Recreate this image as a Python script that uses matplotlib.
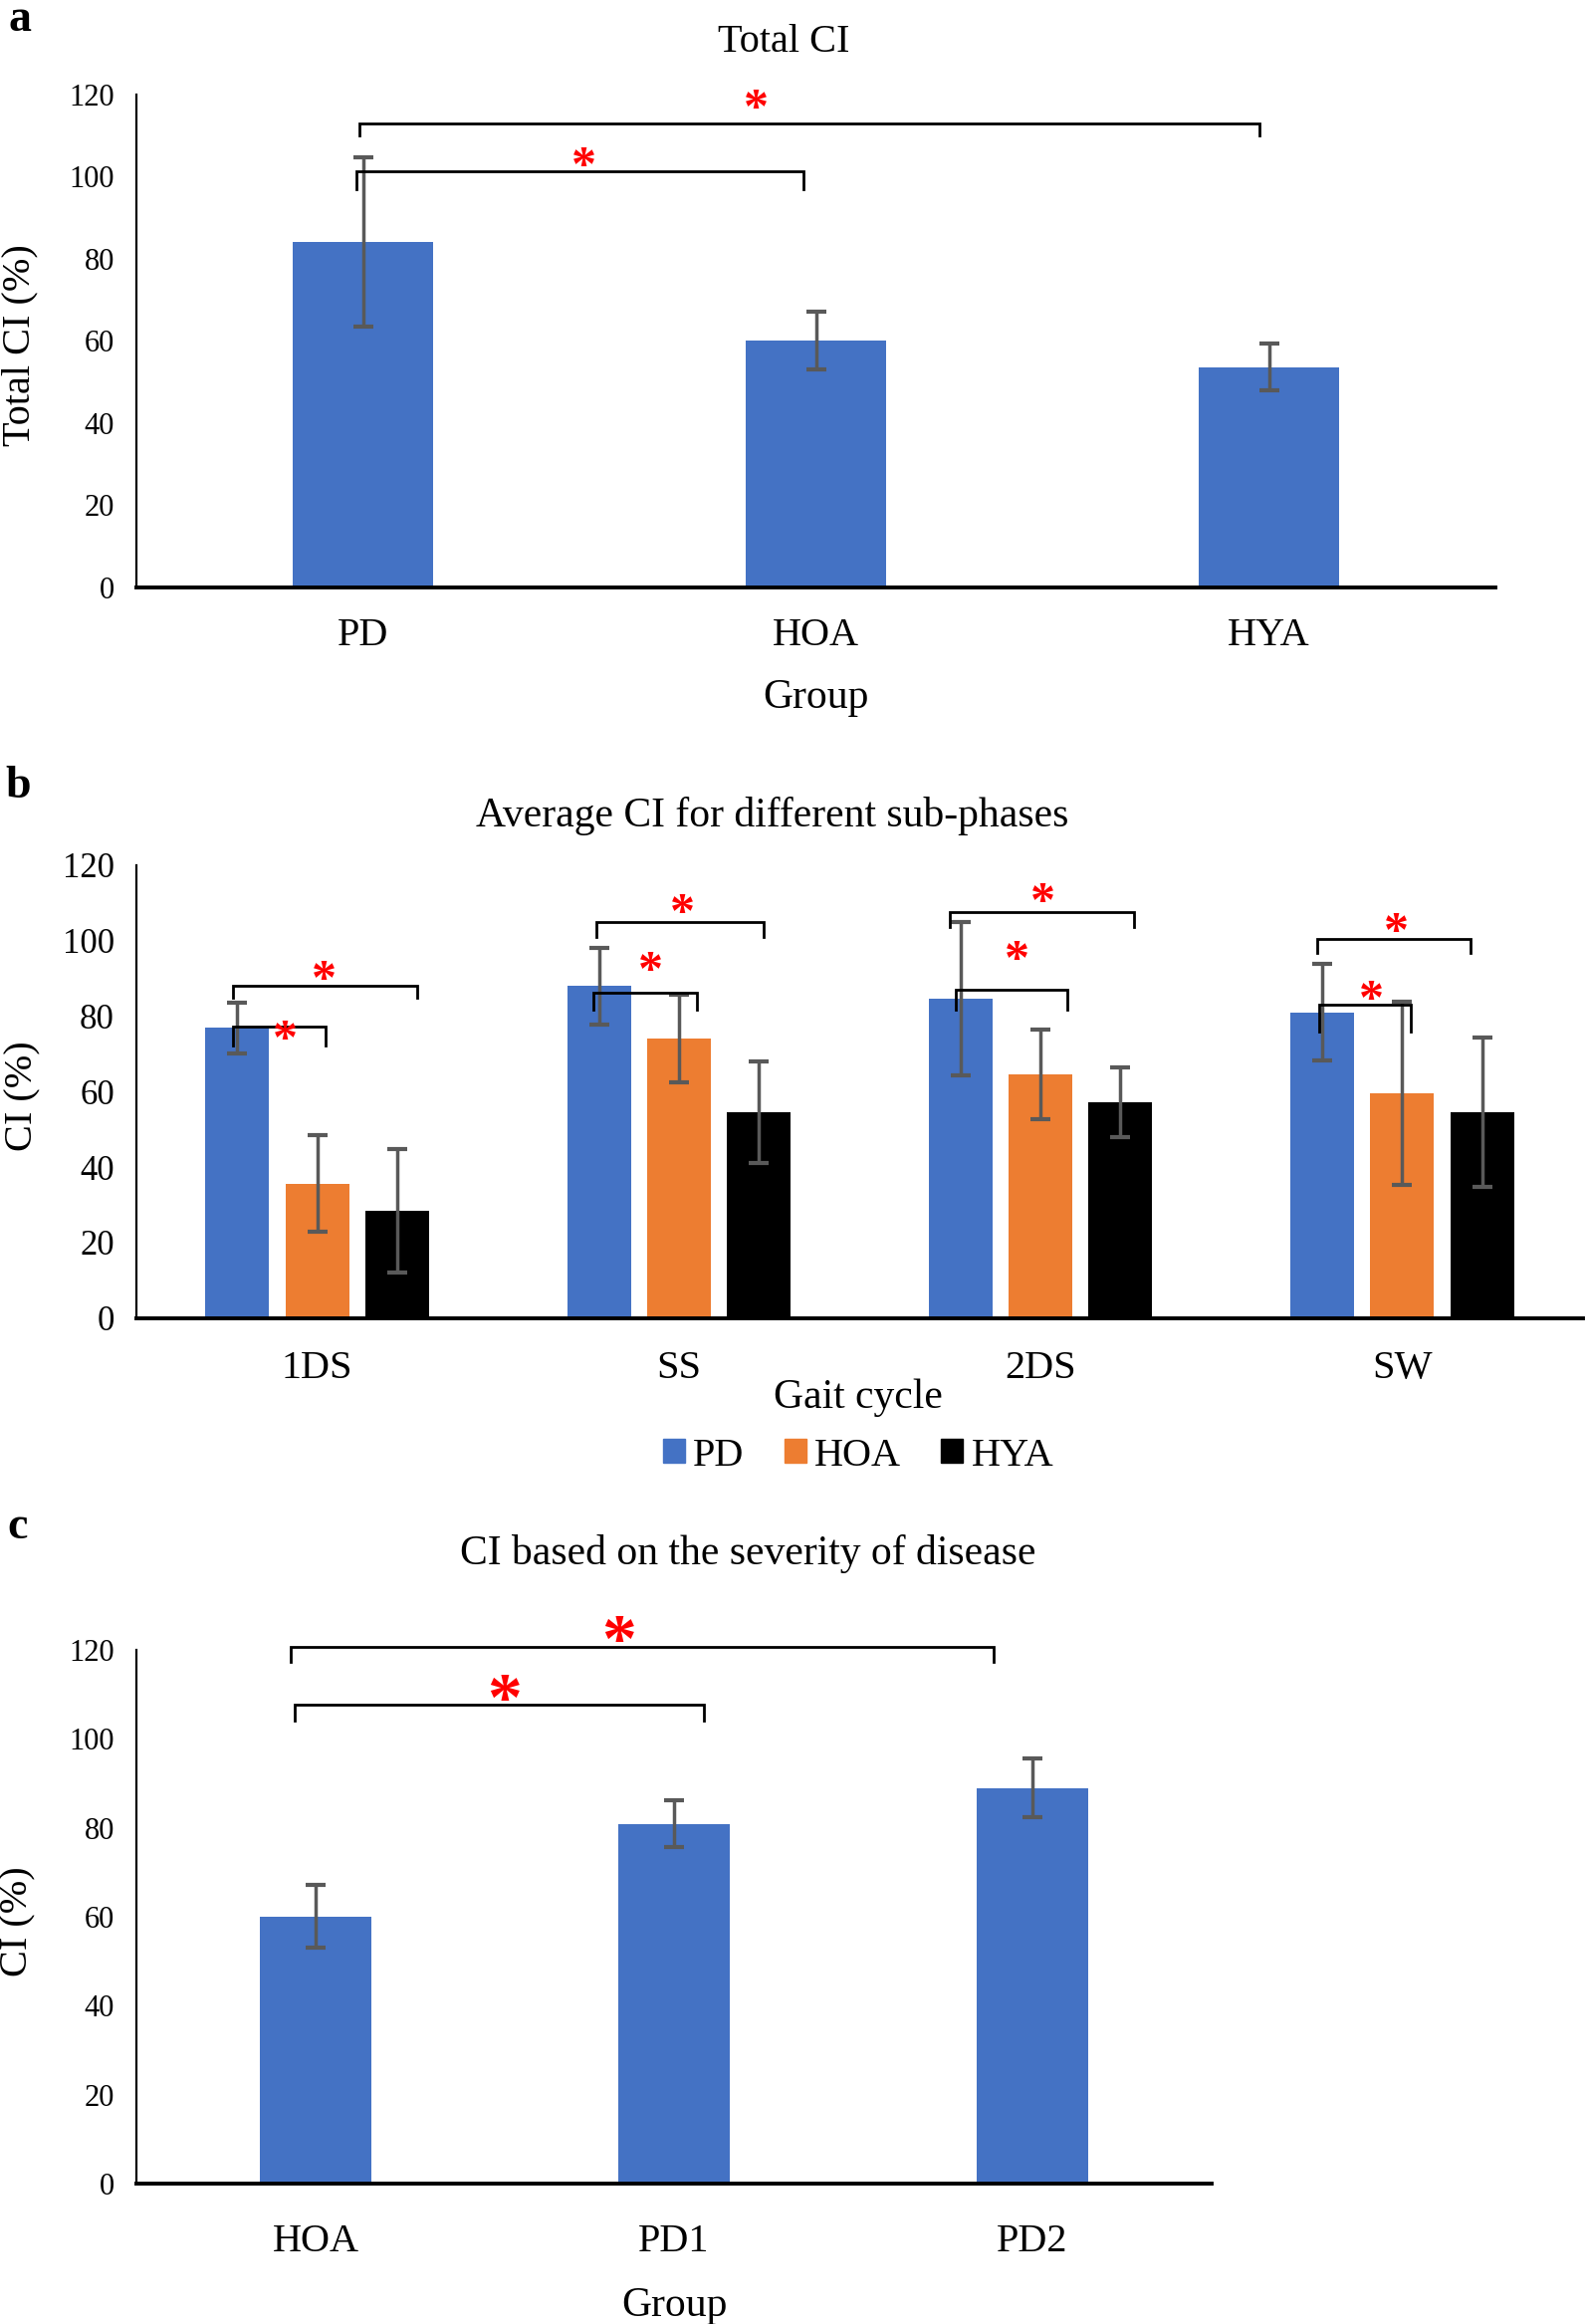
import matplotlib
matplotlib.use("Agg")
import matplotlib.pyplot as plt
from matplotlib.patches import Patch
from matplotlib.transforms import offset_copy

plt.rcParams['font.family'] = ['Liberation Serif', 'DejaVu Serif']

# ---------------- data ----------------
a_groups = ["PD", "HOA", "HYA"]
a_means = [84.0, 60.0, 53.6]
a_err = [20.5, 7.0, 5.6]

b_phases = ["1DS", "SS", "2DS", "SW"]
b_series = ["PD", "HOA", "HYA"]
b_pd = [76.8, 87.9, 84.6, 81.0]
b_pd_err = [6.6, 10.2, 20.4, 12.8]
b_hoa = [35.6, 74.1, 64.6, 59.5]
b_hoa_err = [12.8, 11.6, 11.9, 24.2]
b_hya = [28.4, 54.6, 57.1, 54.5]
b_hya_err = [16.4, 13.4, 9.3, 19.8]

c_groups = ["HOA", "PD1", "PD2"]
c_means = [60.1, 80.9, 89.0]
c_err = [7.0, 5.3, 6.7]

yticks = [0, 20, 40, 60, 80, 100, 120]

# significance brackets: (x1, x2, y, drop, star_x, star_y)
a_brackets = [(-0.014, 0.973, 101.2, 4.4, 0.487, 105.1),
              (-0.007, 1.980, 112.8, 2.8, 0.869, 119.2)]
b_brackets = [(-0.234, 0.023, 77.1, 5.0, -0.089, 76.8),
              (-0.234, 0.277, 88.1, 3.3, 0.020, 92.7),
              (0.763, 1.051, 86.2, 4.6, 0.923, 95.0),
              (0.772, 1.233, 104.8, 3.8, 1.009, 110.4),
              (1.767, 2.074, 86.9, 5.3, 1.935, 97.9),
              (1.750, 2.259, 107.5, 3.9, 2.005, 113.3),
              (2.770, 3.025, 83.0, 7.1, 2.916, 87.4),
              (2.765, 3.190, 100.4, 3.6, 2.983, 105.3)]
c_brackets = [(-0.058, 1.085, 107.8, 3.7, 0.527, 112.2),
              (-0.070, 1.892, 120.6, 3.3, 0.847, 125.4)]

BLUE = "#4472C4"
ORANGE = "#ED7D31"
BLACK = "#000000"
ERRC = "#595959"

W, H = 1594, 2334
fig = plt.figure(figsize=(W / 100, H / 100), dpi=100)


def rect(l, t, r, b):
    return [l / W, 1 - b / H, (r - l) / W, (b - t) / H]


def fpos(x, y):
    return x / W, 1 - (y + 4) / H


def style_axes(ax, tick_size, xpad):
    ax.set_ylim(0, 120)
    ax.set_yticks(yticks)
    for s in ["top", "right"]:
        ax.spines[s].set_visible(False)
    ax.spines["left"].set_linewidth(1.6)
    ax.spines["bottom"].set_linewidth(2.8)
    ax.tick_params(axis="y", length=0, pad=16, labelsize=tick_size)
    ax.tick_params(axis="x", length=0, pad=xpad, labelsize=29)


def draw_brackets(ax, brs, star_size):
    tr = offset_copy(ax.transData, fig=fig, y=-0.27 * star_size, units="points")
    for x1, x2, y, d, sx, sy in brs:
        ax.plot([x1, x1, x2, x2], [y - d, y, y, y - d], color="black",
                lw=2.0, clip_on=False, solid_joinstyle="miter", zorder=5)
        ax.text(sx, sy, "*", color="red", fontsize=star_size, fontweight="bold",
                ha="center", va="center", clip_on=False, zorder=6, transform=tr)


ekw = dict(ecolor=ERRC, elinewidth=2.5, capsize=7, capthick=3)

# ---------------- panel a ----------------
axa = fig.add_axes(rect(137, 94.5, 1502, 589.7))
xa = list(range(len(a_groups)))
axa.bar(xa, a_means, width=0.311, color=BLUE, yerr=a_err, error_kw=ekw)
axa.set_xlim(-0.5, 2.5)
axa.set_xticks(xa)
axa.set_xticklabels(a_groups)
style_axes(axa, 22, 22)
draw_brackets(axa, a_brackets, 36)
fig.text(*fpos(20, 16), "a", fontsize=33, fontweight="bold", ha="center", va="center")
fig.text(*fpos(787, 39), "Total CI", fontsize=29, ha="center", va="center")
fig.text(*fpos(819, 697), "Group", fontsize=30, ha="center", va="center")
fig.text(*fpos(20, 343), "Total CI (%)", fontsize=29, rotation=90, ha="center", va="center")

# ---------------- panel b ----------------
axb = fig.add_axes(rect(137, 868.6, 1590, 1323.8))
xb = list(range(len(b_phases)))
bw = 0.176
off = 0.221
for k, (vals, errs, col) in enumerate([(b_pd, b_pd_err, BLUE),
                                       (b_hoa, b_hoa_err, ORANGE),
                                       (b_hya, b_hya_err, BLACK)]):
    axb.bar([x + (k - 1) * off for x in xb], vals, width=bw, color=col,
            yerr=errs, error_kw=ekw, label=b_series[k])
axb.set_xlim(-0.5, 3.5)
axb.set_xticks(xb)
axb.set_xticklabels(b_phases)
style_axes(axb, 25, 23)
draw_brackets(axb, b_brackets, 36)
fig.text(*fpos(18, 786), "b", fontsize=33, fontweight="bold", ha="center", va="center")
fig.text(*fpos(776, 815), "Average CI for different sub-phases", fontsize=30, ha="center", va="center")
fig.text(*fpos(862, 1400), "Gait cycle", fontsize=30, ha="center", va="center")
fig.text(*fpos(23, 1097), "CI (%)", fontsize=29, rotation=90, ha="center", va="center")
handles = [Patch(color=BLUE), Patch(color=ORANGE), Patch(color=BLACK)]
fig.legend(handles, b_series, loc="center", bbox_to_anchor=fpos(862, 1458), ncol=3,
           frameon=False, fontsize=29, handlelength=0.55, handleheight=0.55,
           handletextpad=0.2, columnspacing=1.0)

# ---------------- panel c ----------------
axc = fig.add_axes(rect(137, 1657.1, 1216.5, 2192.9))
xc = list(range(len(c_groups)))
axc.bar(xc, c_means, width=0.311, color=BLUE, yerr=c_err, error_kw=ekw)
axc.set_xlim(-0.5, 2.5)
axc.set_xticks(xc)
axc.set_xticklabels(c_groups)
style_axes(axc, 22, 29)
draw_brackets(axc, c_brackets, 50)
fig.text(*fpos(18, 1530), "c", fontsize=33, fontweight="bold", ha="center", va="center")
fig.text(*fpos(751, 1557), "CI based on the severity of disease", fontsize=30, ha="center", va="center")
fig.text(*fpos(677, 2312), "Group", fontsize=30, ha="center", va="center")
fig.text(*fpos(18, 1926), "CI (%)", fontsize=29, rotation=90, ha="center", va="center")

fig.savefig("out.png", dpi=100, facecolor="white")
